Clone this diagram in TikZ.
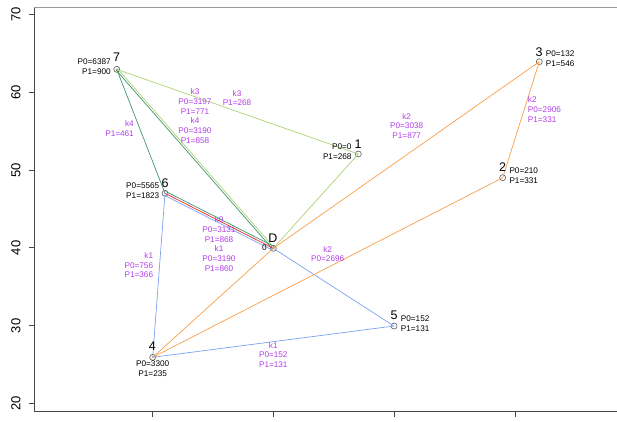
\documentclass[tikz,border=0pt]{standalone}
\usepackage{fontspec}
\setmainfont{Liberation Sans}
\usetikzlibrary{calc}
\definecolor{kzero}{RGB}{240,40,40}
\definecolor{kone}{RGB}{125,162,240}
\definecolor{ktwo}{RGB}{247,158,75}
\definecolor{kthree}{RGB}{172,210,118}
\definecolor{kfour}{RGB}{65,148,112}
\definecolor{klab}{RGB}{180,60,235}
\definecolor{axisgray}{RGB}{70,70,70}
\begin{document}
\begin{tikzpicture}[x=1pt,y=-1pt,line join=round,line cap=round,
		vtx/.style={draw=black!65,circle,inner sep=0pt,minimum size=6pt,line width=0.6pt},
		num/.style={inner sep=0pt,font=\fontsize{12.5}{14}\selectfont},
		val/.style={inner sep=0pt,align=#1,font=\fontsize{8.2}{9.7}\selectfont},
		val/.default=center,
		kval/.style={val=#1,text=klab},
		kval/.default=center,
		axisline/.style={draw=axisgray,line width=0.9pt,line cap=butt}]
	\useasboundingbox (0,0) rectangle (617,421);
	\def\xaxis{34.5}
	\def\yaxis{411}
	% frame and ticks
	\draw[axisline] (\xaxis,7) -- (\xaxis,\yaxis) -- (617,\yaxis);
	\draw[black!40,line width=0.9pt] (\xaxis,7) -- (617,7);
	\foreach \v in {20,30,...,70}
	{
		\pgfmathsetmacro\yy{14.3+(70-\v)*7.788}
		\draw[axisline] (29,\yy) -- (\xaxis,\yy);
		\node[rotate=90,inner sep=0pt,font=\fontsize{13}{14}\selectfont] (y\v) at (16,\yy) {\v};
	}
	\foreach \i in {0,...,3}
	{
		\draw[axisline] ({152.5+121*\i},\yaxis) -- ++(0,6);
	}
	% stops
	\node[vtx] (n7) at (116.7,69.3) {};
	\node[vtx] (n1) at (358.3,154) {};
	\node[vtx] (n3) at (539.3,61.7) {};
	\node[vtx] (n2) at (502.7,177.7) {};
	\node[vtx] (n6) at (165,193.3) {};
	\node[vtx] (nD) at (273.3,248.3) {};
	\node[vtx] (n4) at (152.7,357.3) {};
	\node[vtx] (n5) at (394,326) {};
	% routes
	\foreach \x/\y/\c/\o in
	{
		n7/n1/kthree/0pt,
		n1/nD/kthree/0pt,
		n7/nD/kthree/1pt,
		n7/nD/kfour/-1pt,
		n7/n6/kfour/0pt,
		n6/nD/kfour/2pt,
		n6/nD/kzero/0pt,
		n6/nD/kone/-2pt,
		n6/n4/kone/0pt,
		nD/n5/kone/0pt,
		n4/n5/kone/0pt,
		n4/nD/ktwo/0pt,
		nD/n3/ktwo/0pt,
		n4/n2/ktwo/0pt,
		n2/n3/ktwo/0pt
	}
	{
		\draw[\c,line width=0.7pt] ($(\x.center)!\o!90:(\y.center)$) -- ($(\y.center)!\o!-90:(\x.center)$);
	}
	% stop labels
	\node[num] (t7) at (116.7,57) {7};
	\node[num] (t1) at (358,144) {1};
	\node[num] (t3) at (539,52.3) {3};
	\node[num] (t2) at (502.7,167.3) {2};
	\node[num] (t6) at (165,183.3) {6};
	\node[num] (tD) at (273,237.7) {D};
	\node[num] (t4) at (152.3,346) {4};
	\node[num] (t5) at (394,315.7) {5};
	\node[val=right,anchor=east] (p7) at (110.9,66.5) {P0=6387\\P1=900};
	\node[val=right,anchor=east] (p1) at (351.7,152) {P0=0\\P1=268};
	\node[val=left,anchor=west] (p3) at (545.7,59) {P0=132\\P1=546};
	\node[val=left,anchor=west] (p2) at (509.3,175.7) {P0=210\\P1=331};
	\node[val=right,anchor=east] (p6) at (159.5,190.9) {P0=5565\\P1=1823};
	\node[val] (pD) at (264.3,247.7) {0};
	\node[val] (p4) at (152.7,368.7) {P0=3300\\P1=235};
	\node[val=left,anchor=west] (p5) at (400.7,323.9) {P0=152\\P1=131};
	% route labels
	\node[kval] (l71) at (237,98) {k3\\P1=268};
	\node[kval] (l7D) at (195,116.2) {k3\\P0=3197\\P1=771\\k4\\P0=3190\\P1=858};
	\node[kval=right,anchor=east] (l76) at (134,128.8) {k4\\P1=461};
	\node[kval] (lD3) at (406.7,126) {k2\\P0=3038\\P1=877};
	\node[kval=left,anchor=west] (l23) at (527.7,109.6) {k2\\P0=2906\\P1=331};
	\node[kval] (l6D) at (219,244.2) {k0\\P0=3131\\P1=868\\k1\\P0=3190\\P1=860};
	\node[kval=right,anchor=east] (l64) at (153.3,265.2) {k1\\P0=756\\P1=366};
	\node[kval] (l42) at (327.7,254) {k2\\P0=2696};
	\node[kval] (l45) at (273.3,354.9) {k1\\P0=152\\P1=131};
\end{tikzpicture}
\end{document}
